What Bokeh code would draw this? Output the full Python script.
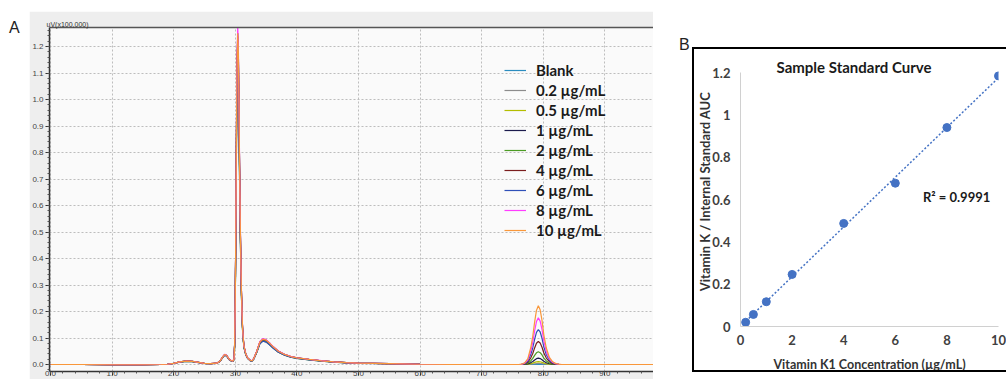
import numpy as np
from bokeh.plotting import figure
from bokeh.models import (Range1d, FixedTicker, LinearAxis, Legend, LegendItem,
                          Label, Div, PrintfTickFormatter)
from bokeh.core.templates import get_env
from bokeh.embed import file_html
from bokeh.resources import INLINE

# ---------------- Panel A data (chromatograms) ----------------
series_labels = ["Blank", "0.2 µg/mL", "0.5 µg/mL", "1 µg/mL", "2 µg/mL",
                 "4 µg/mL", "6 µg/mL", "8 µg/mL", "10 µg/mL"]
series_colors = ["#2b8cbf", "#8c8c8c", "#b3bd00", "#1b1b4d", "#4b9b23",
                 "#7b1e1e", "#3050b8", "#ff3cff", "#f9973a"]
analyte_heights = [0.0, 0.004, 0.011, 0.024, 0.048, 0.087, 0.132, 0.176, 0.222]
main_peak_scale = [0.98, 0.95, 0.97, 1.0, 0.93, 0.99, 0.92, 1.02, 1.0]

pre_time = [0.0, 0.5, 1.0, 1.5, 1.8, 1.9, 2.0, 2.1, 2.2, 2.3, 2.4, 2.5, 2.6, 2.7,
            2.75, 2.8, 2.83, 2.86, 2.9, 2.93, 2.96, 2.98, 2.99, 3.0, 3.01, 3.02,
            3.03, 3.04, 3.05, 3.06, 3.07, 3.08, 3.09, 3.10, 3.11, 3.12, 3.14, 3.17,
            3.2, 3.24, 3.27, 3.3, 3.35, 3.4, 3.45, 3.5, 3.55, 3.6, 3.7, 3.8, 3.9,
            4.0, 4.2, 4.4, 4.6, 4.8, 5.0, 5.5, 6.0, 6.5, 7.0, 7.5]
pre_signal = [0.0, 0.0, -0.001, -0.001, 0.0, 0.001, 0.004, 0.010, 0.013, 0.012,
              0.008, 0.004, 0.003, 0.005, 0.012, 0.030, 0.038, 0.034, 0.020, 0.015,
              0.013, 0.020, 0.08, 0.25, 0.55, 0.90, 1.15, 1.25, 1.18, 0.98, 0.75,
              0.55, 0.40, 0.28, 0.19, 0.13, 0.07, 0.04, 0.025, 0.016, 0.014, 0.022,
              0.05, 0.085, 0.096, 0.092, 0.082, 0.07, 0.05, 0.038, 0.03, 0.025,
              0.019, 0.014, 0.01, 0.007, 0.005, 0.003, 0.001, 0.0, 0.0, 0.0]
peak_time = [7.6, 7.65, 7.7, 7.75, 7.8, 7.83, 7.86, 7.89, 7.92, 7.95, 7.98, 8.01,
             8.05, 8.1, 8.15, 8.2, 8.25, 8.3]
peak_shape = [0.0, 0.005, 0.03, 0.1, 0.3, 0.48, 0.72, 0.92, 1.0, 0.93, 0.75, 0.5,
              0.28, 0.12, 0.05, 0.018, 0.005, 0.0]
post_time = [8.4, 8.8, 9.2, 9.6, 9.8]
post_signal = [0.0, 0.0, 0.0, 0.0, 0.0]

xA_ticks = [0, 1, 2, 3, 4, 5, 6, 7, 8, 9]
yA_ticks = [0.0, 0.1, 0.2, 0.3, 0.4, 0.5, 0.6, 0.7, 0.8, 0.9, 1.0, 1.1, 1.2]
yA_unit_label = "uV(x100,000)"

# ---------------- Panel B data (standard curve) ----------------
conc = [0.2, 0.5, 1, 2, 4, 6, 8, 10]
ratio = [0.02, 0.057, 0.117, 0.246, 0.487, 0.677, 0.94, 1.184]
xB_ticks = [0, 2, 4, 6, 8, 10]
yB_ticks = [0, 0.2, 0.4, 0.6, 0.8, 1.0, 1.2]
yB_tick_labels = ["0", "0.2", "0.4", "0.6", "0.8", "1", "1.2"]
r2_text = "R² = 0.9991"

assert len(pre_time) == len(pre_signal)
assert len(peak_time) == len(peak_shape)

# ================= Panel A =================
pA = figure(width=624, height=368, x_range=Range1d(-0.016, 9.79),
            y_range=Range1d(-0.0264, 1.2717), output_backend="svg",
            toolbar_location=None, min_border_left=19, min_border_right=0,
            min_border_top=16, min_border_bottom=8,
            background_fill_color="#fafafa", border_fill_color="#eeeeee",
            outline_line_color=None, margin=(11, 0, 0, 0))

time_all = np.array(pre_time + peak_time + post_time)
renderers = []
for i, lab in enumerate(series_labels):
    y = np.concatenate([np.array(pre_signal) * main_peak_scale[i],
                        np.array(peak_shape) * analyte_heights[i],
                        np.array(post_signal)])
    r = pA.line(time_all, y, line_color=series_colors[i], line_width=1.2)
    renderers.append(r)

items = [LegendItem(label=lab, renderers=[r]) for lab, r in zip(series_labels, renderers)]
legend = Legend(items=items, location=(455, 131), background_fill_alpha=0,
                border_line_alpha=0, padding=0, margin=0, spacing=0,
                glyph_width=22, glyph_height=20, label_height=20, label_standoff=10,
                label_text_font="Lato", label_text_font_style="bold",
                label_text_font_size="15px", label_text_color="#1a1a1a")
pA.add_layout(legend)

pA.xaxis.ticker = FixedTicker(ticks=xA_ticks,
                              minor_ticks=list(np.round(np.arange(0, 9.81, 0.2), 2)))
pA.yaxis.ticker = FixedTicker(ticks=yA_ticks,
                              minor_ticks=list(np.round(np.arange(-0.02, 1.27, 0.02), 3)))
pA.xaxis.formatter = PrintfTickFormatter(format="%.1f")
pA.yaxis.formatter = PrintfTickFormatter(format="%.1f")
for ax in (pA.xaxis[0], pA.yaxis[0]):
    ax.axis_line_color = "#333333"
    ax.axis_line_width = 1.5
    ax.major_tick_line_color = "#333333"
    ax.major_tick_out = 4
    ax.major_tick_in = 0
    ax.minor_tick_line_color = "#555555"
    ax.minor_tick_out = 2
    ax.minor_tick_in = 0
    ax.major_label_text_font = "Liberation Sans"
    ax.major_label_text_font_size = "8px"
    ax.major_label_text_color = "#444444"
pA.yaxis.major_label_standoff = 2
pA.xaxis.major_label_standoff = -5

pA.xgrid.ticker = FixedTicker(ticks=xA_ticks)
pA.ygrid.ticker = FixedTicker(ticks=yA_ticks)
for g in (pA.xgrid[0], pA.ygrid[0]):
    g.grid_line_color = "#bdbdbd"
    g.grid_line_dash = "2 2"
    g.grid_line_width = 1

top_axis = LinearAxis(ticker=FixedTicker(ticks=[]), axis_line_color="#555555",
                      axis_line_width=1.5, major_tick_line_color=None,
                      minor_tick_line_color=None, major_tick_out=0, major_tick_in=0,
                      minor_tick_out=0, minor_tick_in=0, major_label_standoff=0)
pA.add_layout(top_axis, "above")

pA.title.text = yA_unit_label
pA.title.align = "left"
pA.title.offset = -3
pA.title.standoff = 0
pA.title.text_font = "Liberation Sans"
pA.title.text_font_size = "7px"
pA.title.text_font_style = "normal"
pA.title.text_color = "#333333"

# ================= Panel B =================
pB = figure(width=314, height=325, x_range=Range1d(0, 10), y_range=Range1d(0, 1.2756),
            output_backend="svg", toolbar_location=None,
            min_border_left=45, min_border_right=10, min_border_top=7,
            min_border_bottom=48, background_fill_color="white",
            border_fill_color="white", outline_line_color=None,
            margin=(47, 0, 0, 0),
            styles={"border-left": "2px solid #000", "border-top": "2px solid #000",
                    "border-bottom": "2px solid #000", "box-sizing": "border-box"})
pB.xgrid.visible = False
pB.ygrid.visible = False

fit = np.polyfit(conc, ratio, 1)
xl = np.array([min(conc) - 0.1, max(conc)])
pB.line(xl, np.polyval(fit, xl), line_color="#4472c4", line_width=1.5, line_dash="2 2")
pB.scatter(conc, ratio, size=8, fill_color="#4472c4", line_color="#4472c4")

pB.xaxis.ticker = FixedTicker(ticks=xB_ticks)
pB.yaxis.ticker = FixedTicker(ticks=yB_ticks)
pB.yaxis.major_label_overrides = {v: s for v, s in zip(yB_ticks, yB_tick_labels)}
pB.yaxis.bounds = (0, 1.2)
for ax in (pB.xaxis[0], pB.yaxis[0]):
    ax.axis_line_color = "#d0d0d0"
    ax.axis_line_width = 1
    ax.major_tick_line_color = None
    ax.minor_tick_line_color = None
    ax.major_tick_out = 0
    ax.minor_tick_out = 0
    ax.major_label_text_font = "Lato"
    ax.major_label_text_font_style = "bold"
    ax.major_label_text_font_size = "13px"
    ax.major_label_text_color = "#404040"
    ax.axis_label_text_font = "Lato"
    ax.axis_label_text_font_style = "bold"
    ax.axis_label_text_color = "#333333"
pB.yaxis.axis_label_text_font_size = "13px"
pB.xaxis.axis_label_text_font_size = "12.5px"
pB.yaxis.major_label_standoff = 10
pB.xaxis.major_label_standoff = 8
pB.yaxis.axis_label = "Vitamin K / Internal Standard AUC"
pB.xaxis.axis_label = "Vitamin K1 Concentration (µg/mL)"
pB.yaxis.axis_label_standoff = -4
pB.xaxis.axis_label_standoff = 9

pB.add_layout(Label(x=4.4, y=1.228, text="Sample Standard Curve", text_align="center",
                    text_baseline="middle", text_font="Lato", text_font_style="bold",
                    text_font_size="15px", text_color="#1a1a1a"))
pB.add_layout(Label(x=7.07, y=0.614, text=r2_text, text_align="left",
                    text_baseline="middle", text_font="Lato", text_font_style="bold",
                    text_font_size="13px", text_color="#1a1a1a"))

divA = Div(text='<div style="font:16px \'Liberation Sans\';padding:19px 0 0 9px;color:#222">A</div>',
           width=29, height=379, margin=(0, 0, 0, 0))
divB = Div(text='<div style="font:16px \'Liberation Sans\';padding:36px 0 0 26px;color:#222">B</div>',
           width=39, height=379, margin=(0, 0, 0, 0))

# Independent roots side by side (no border alignment between the two panels)
TEMPLATE = get_env().from_string("""{% extends "file.html" %}
{% block contents %}
{% from macros import embed with context %}
<div style="display:flex;flex-direction:row;align-items:flex-start;">
{% for doc in docs %}{% for root in doc.roots %}{{ embed(root) }}{% endfor %}{% endfor %}
</div>
{% endblock %}
""")

open("out.html", "w").write(file_html([divA, pA, divB, pB], INLINE, template=TEMPLATE))
